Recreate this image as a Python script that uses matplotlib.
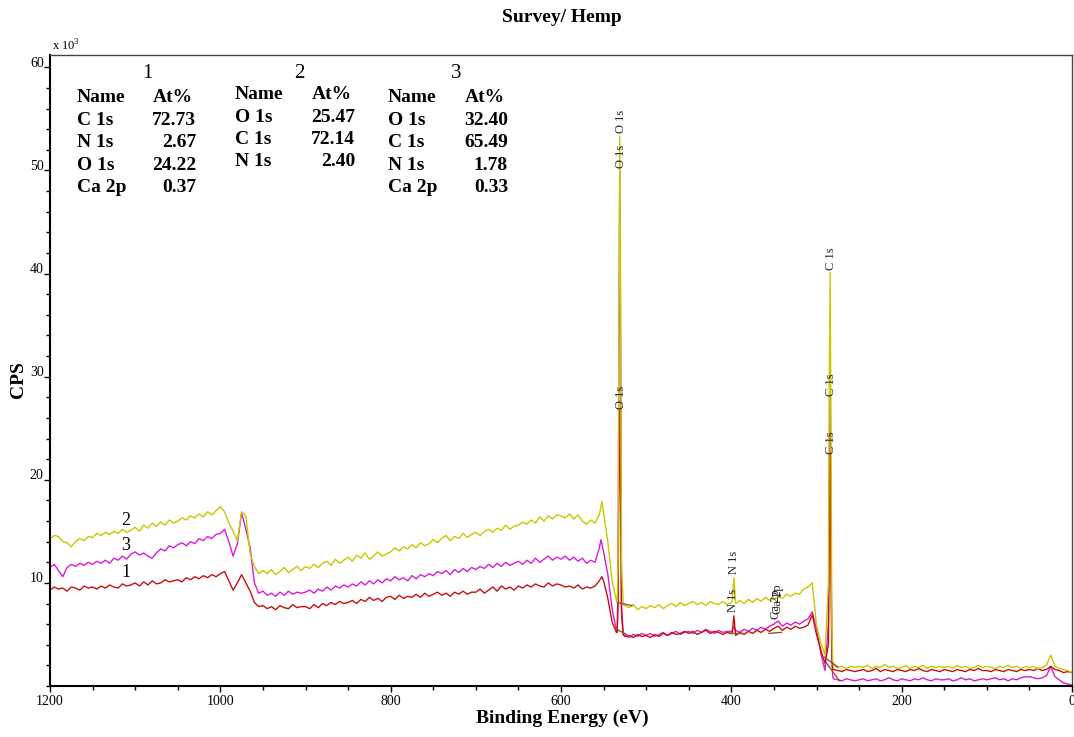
import numpy as np
import matplotlib
matplotlib.use('Agg')
from matplotlib import pyplot as plt
from matplotlib.ticker import MultipleLocator, FixedLocator
import matplotlib.transforms as mtransforms

plt.rcParams['font.family'] = ['Liberation Serif', 'DejaVu Serif']
plt.rcParams['mathtext.fontset'] = 'custom'
plt.rcParams['mathtext.rm'] = 'Liberation Serif'

# binding energy grid (eV), 5 eV steps from 1200 down to 0
energy = list(range(1200, -1, -5))

# CPS values in units of 10^3
# sample 2 (yellow)
cps_2 = [
    14.3, 14.6, 14.5, 14.0, 13.9, 13.5, 14.0, 14.3, 14.1, 14.5,
    14.4, 14.8, 14.6, 14.9, 14.7, 15.0, 14.8, 15.2, 14.9, 15.1,
    15.4, 15.0, 15.6, 15.3, 15.8, 15.5, 15.9, 15.6, 16.1, 15.8,
    16.0, 16.3, 16.1, 16.5, 16.3, 16.7, 16.4, 16.9, 16.6, 17.0,
    17.4, 16.9, 15.8, 15.0, 14.1, 16.9, 16.5, 12.8, 11.6, 10.9,
    11.2, 10.9, 11.3, 10.8, 11.1, 11.5, 11.0, 11.3, 11.6, 11.2,
    11.6, 11.4, 11.8, 11.5, 11.9, 12.1, 11.7, 12.3, 11.9, 12.2,
    12.5, 12.1, 12.7, 12.4, 12.9, 12.3, 12.6, 13.0, 12.6, 12.8,
    13.0, 13.4, 13.1, 13.5, 13.3, 13.7, 13.4, 13.9, 13.6, 13.8,
    14.2, 13.9, 14.3, 14.6, 14.1, 14.5, 14.3, 14.8, 14.4, 14.7,
    14.9, 14.6, 15.0, 15.2, 14.9, 15.3, 15.1, 15.6, 15.2, 15.5,
    15.6, 15.9, 15.7, 16.1, 15.8, 16.4, 16.0, 16.5, 16.2, 16.6,
    16.5, 16.3, 16.7, 16.2, 16.6, 16.0, 15.7, 16.1, 15.8, 16.6,
    16.8, 14.0, 10.2, 8.3, 8.0, 7.8, 7.6, 7.9, 7.4, 7.7,
    7.5, 7.8, 7.6, 7.9, 7.5, 7.8, 8.0, 7.7, 8.1, 7.8,
    8.0, 8.2, 7.9, 8.1, 7.8, 8.2, 8.0, 7.9, 8.2, 7.9,
    8.1, 8.0, 8.3, 8.0, 8.4, 8.1, 8.5, 8.2, 8.6, 8.3,
    8.4, 8.7, 8.5, 8.9, 8.7, 9.0, 8.9, 9.4, 9.6, 10.0,
    5.9, 4.2, 3.0, 30.0, 2.0, 1.8, 1.9, 1.7, 1.9, 1.8,
    1.9, 1.8, 2.0, 1.7, 1.9, 1.8, 2.1, 1.8, 1.9, 1.7,
    1.8, 2.0, 1.7, 1.9, 1.8, 2.0, 1.7, 1.9, 1.8, 1.9,
    1.8, 1.9, 1.7, 2.0, 1.8, 1.9, 1.7, 1.8, 2.0, 1.8,
    1.9, 1.8, 1.7, 1.9, 1.8, 2.0, 1.8, 1.9, 1.7, 1.9,
    1.8, 1.9, 1.7, 1.8, 2.0, 3.0, 1.9, 1.7, 1.6, 1.5,
    1.3]

# sample 3 (magenta)
cps_3 = [
    11.5, 11.8, 11.2, 10.6, 11.5, 11.8, 11.6, 11.9, 11.7, 12.0,
    11.8, 12.1, 11.9, 12.2, 11.9, 12.4, 12.2, 12.6, 12.3, 12.8,
    13.0, 12.7, 12.9, 12.6, 12.4, 12.9, 13.3, 13.1, 13.6, 13.4,
    13.7, 13.9, 13.6, 14.0, 13.8, 14.3, 14.1, 14.5, 14.3, 14.7,
    14.8, 15.2, 14.0, 12.6, 13.8, 16.8, 15.2, 13.4, 10.0, 9.0,
    9.2, 8.8, 9.0, 8.7, 9.1, 8.8, 9.2, 8.9, 9.1, 9.0,
    9.1, 9.3, 9.0, 9.4, 9.2, 9.6, 9.3, 9.7, 9.5, 9.8,
    9.6, 9.9, 9.7, 10.1, 9.8, 10.2, 9.9, 10.3, 10.0, 10.4,
    10.2, 10.6, 10.3, 10.5, 10.2, 10.7, 10.4, 10.8, 10.6, 10.9,
    10.7, 11.1, 10.9, 11.2, 10.8, 11.3, 11.0, 11.4, 11.1, 11.5,
    11.3, 11.6, 11.4, 11.8, 11.5, 11.9, 11.6, 12.0, 11.7, 11.9,
    12.1, 11.8, 12.2, 11.9, 12.4, 12.0, 12.3, 12.6, 12.2, 12.5,
    12.3, 12.6, 12.2, 12.5, 12.1, 12.4, 11.9, 12.2, 12.0, 13.4,
    13.0, 10.8, 7.5, 5.4, 5.2, 4.9, 4.7, 5.0, 4.8, 5.1,
    4.9, 5.1, 4.8, 5.0, 5.2, 4.9, 5.1, 5.3, 5.0, 5.2,
    5.3, 5.1, 5.4, 5.2, 5.5, 5.3, 5.1, 5.4, 5.2, 5.3,
    5.3, 5.4, 5.2, 5.5, 5.3, 5.6, 5.4, 5.7, 5.5, 5.8,
    6.0, 6.3, 5.8, 6.1, 5.9, 6.2, 6.0, 6.3, 6.5, 7.2,
    5.6, 3.2, 1.5, 20.0, 0.7, 0.6, 0.5, 0.7, 0.6, 0.5,
    0.6, 0.7, 0.5, 0.6, 0.7, 0.5, 0.6, 0.8, 0.6, 0.5,
    0.7, 0.6, 0.5, 0.7, 0.6, 0.8, 0.6, 0.5, 0.7, 0.6,
    0.6, 0.7, 0.5, 0.6, 0.8, 0.6, 0.7, 0.5, 0.6, 0.7,
    0.6, 0.7, 0.8, 0.6, 0.7, 0.5, 0.7, 0.6, 0.8, 0.9,
    0.9, 0.8, 0.7, 0.8, 1.0, 1.9, 0.9, 0.6, 0.3, 0.2,
    0.1]

# sample 1 (red)
cps_1 = [
    9.3, 9.6, 9.4, 9.5, 9.2, 9.6, 9.5, 9.3, 9.7, 9.5,
    9.6, 9.4, 9.7, 9.5, 9.8, 9.6, 9.5, 9.9, 9.7, 9.8,
    10.0, 9.7, 10.1, 9.8, 10.2, 9.9, 10.0, 10.3, 10.1, 10.2,
    10.3, 10.1, 10.5, 10.3, 10.6, 10.4, 10.7, 10.5, 10.8, 10.6,
    10.9, 11.1, 10.2, 9.3, 10.0, 10.8, 10.0, 9.2, 8.1, 7.7,
    7.8, 7.5, 7.7, 7.4, 7.8, 7.6, 7.5, 7.9, 7.6, 7.7,
    7.7, 7.5, 7.9, 7.6, 8.0, 7.8, 8.1, 7.9, 8.2, 8.0,
    8.1, 8.3, 8.0, 8.4, 8.2, 8.6, 8.3, 8.5, 8.2, 8.6,
    8.7, 8.4, 8.8, 8.5, 8.7, 8.6, 8.9, 8.6, 9.0, 8.7,
    8.9, 9.1, 8.8, 9.0, 8.7, 9.1, 8.9, 9.2, 8.9, 9.1,
    9.1, 9.4, 9.0, 9.3, 9.6, 9.2, 9.7, 9.4, 9.6, 9.3,
    9.7, 9.5, 9.8, 9.6, 9.9, 9.7, 9.6, 10.0, 9.7, 9.9,
    9.8, 9.6, 9.7, 9.5, 9.8, 9.4, 9.6, 9.5, 9.7, 10.2,
    10.2, 8.5, 6.2, 5.2, 5.3, 4.8, 4.9, 4.7, 5.0, 4.8,
    4.9, 4.7, 5.0, 4.8, 5.1, 4.9, 5.2, 5.0, 5.1, 5.3,
    5.1, 5.3, 5.0, 5.2, 5.4, 5.1, 5.3, 5.2, 5.0, 5.2,
    5.1, 4.9, 5.2, 5.0, 5.3, 5.1, 5.4, 5.2, 5.5, 5.3,
    5.6, 5.8, 5.4, 5.7, 5.5, 5.8, 5.6, 5.7, 5.9, 6.9,
    5.0, 3.5, 2.2, 15.0, 1.6, 1.5, 1.4, 1.6, 1.5, 1.4,
    1.5, 1.6, 1.4, 1.5, 1.7, 1.4, 1.6, 1.5, 1.4, 1.6,
    1.5, 1.4, 1.6, 1.5, 1.7, 1.5, 1.4, 1.6, 1.5, 1.4,
    1.6, 1.5, 1.4, 1.6, 1.5, 1.4, 1.6, 1.5, 1.7, 1.5,
    1.5, 1.4, 1.6, 1.5, 1.4, 1.6, 1.5, 1.4, 1.6, 1.5,
    1.6, 1.5, 1.7, 1.5, 1.6, 1.9, 1.6, 1.5, 1.3, 1.4,
    1.3]

# extra points on the sharp peaks (eV: value)
peaks_2 = {552: 17.9, 534: 8.2, 533: 12.0, 532: 35.0, 531: 53.3, 530: 38.0, 529: 12.0, 527: 7.9,
           399: 8.2, 397: 10.5, 286: 10.0, 284: 40.1, 283: 25.0, 282: 6.0, 281: 2.5}
peaks_3 = {553: 14.2, 534: 5.3, 533: 10.0, 532: 32.0, 531: 50.0, 530: 33.0, 529: 8.0, 527: 5.0,
           399: 5.4, 397: 5.8, 286: 6.0, 284: 28.0, 283: 16.0, 282: 3.0, 281: 1.0}
peaks_1 = {552: 10.6, 534: 5.2, 533: 8.0, 532: 20.0, 531: 26.8, 530: 18.0, 529: 7.0, 527: 5.0,
           399: 5.1, 397: 6.8, 286: 4.0, 284: 22.4, 283: 12.0, 282: 3.0, 281: 1.6}

# quantification backgrounds (start eV, start cps, end eV, end cps)
backgrounds = [(537, 5.6, 523, 5.0), (534, 8.1, 517, 7.8), (403, 5.1, 388, 5.1),
               (356, 5.1, 341, 5.2), (291, 2.8, 275, 1.85), (289, 2.3, 273, 0.5)]

# peak markers (eV, cps at label foot, name)
peak_labels = [(529.5, 53.6, 'O 1s'), (530, 50.2, 'O 1s'), (530, 26.9, 'O 1s'),
               (283, 40.3, 'C 1s'), (283, 28.1, 'C 1s'), (283, 22.5, 'C 1s'),
               (396.5, 10.9, 'N 1s'), (397.5, 7.2, 'N 1s'),
               (347, 6.5, 'Ca 2p'), (345, 7.0, 'Ca 2p')]

# sample numbers next to the curves (eV, cps baseline, text)
sample_labels = [(1111, 15.6, '2'), (1111, 13.2, '3'), (1111, 10.6, '1')]

# atomic % tables
tab_names_1 = ['C 1s', 'N 1s', 'O 1s', 'Ca 2p']
tab_at_1 = ['72.73', '2.67', '24.22', '0.37']
tab_names_2 = ['O 1s', 'C 1s', 'N 1s']
tab_at_2 = ['25.47', '72.14', '2.40']
tab_names_3 = ['O 1s', 'C 1s', 'N 1s', 'Ca 2p']
tab_at_3 = ['32.40', '65.49', '1.78', '0.33']


def build(values, extras):
    pts = dict(zip(energy, values))
    pts.update(extras)
    xs = sorted(pts.keys(), reverse=True)
    return np.array(xs, dtype=float), np.array([pts[k] for k in xs])


fig = plt.figure(figsize=(10.74, 7.37), dpi=100)
ax = fig.add_axes([50 / 1074, 1 - 686 / 737, 1022 / 1074, 631 / 737])

for vals, extras, col in [(cps_3, peaks_3, '#d81cd8'),
                          (cps_1, peaks_1, '#c81010'),
                          (cps_2, peaks_2, '#c8c800')]:
    x, y = build(vals, extras)
    ax.plot(x, y, color=col, lw=1.0)

for e0, c0, e1, c1 in backgrounds:
    ax.plot([e0, e1], [c0, c1], color='#8b5a2b', lw=1.0)

for e, c, name in peak_labels:
    ax.text(e, c, name, rotation=90, ha='center', va='bottom', fontsize=9, color='#222222')

for e, c, s in sample_labels:
    ax.text(e, c, s, ha='center', va='baseline', fontsize=13)


def draw_table(num, names, ats, hx, nx, axx, vx, top):
    step = 0.0355
    ax.text(hx, 0.9636, num, transform=ax.transAxes, ha='center', va='baseline', fontsize=15)
    ax.text(nx, top, 'Name', transform=ax.transAxes, ha='left', va='baseline', fontsize=14, fontweight='bold')
    ax.text(axx, top, 'At%', transform=ax.transAxes, ha='left', va='baseline', fontsize=14, fontweight='bold')
    for i, (n, a) in enumerate(zip(names, ats)):
        yy = top - step * (i + 1)
        ax.text(nx, yy, n, transform=ax.transAxes, ha='left', va='baseline', fontsize=14, fontweight='bold')
        ax.text(vx, yy, a, transform=ax.transAxes, ha='right', va='baseline', fontsize=14, fontweight='bold')


draw_table('1', tab_names_1, tab_at_1, 0.0949, 0.0264, 0.1008, 0.1429, 0.925)
draw_table('2', tab_names_2, tab_at_2, 0.2436, 0.1810, 0.2564, 0.2984, 0.930)
draw_table('3', tab_names_3, tab_at_3, 0.3973, 0.3307, 0.4061, 0.4481, 0.925)

ax.set_xlim(1200, 0)
ax.set_ylim(0, 61.2)
ax.xaxis.set_major_locator(FixedLocator([1200, 1000, 800, 600, 400, 200, 0]))
ax.xaxis.set_minor_locator(MultipleLocator(50))
ax.yaxis.set_major_locator(FixedLocator([10, 20, 30, 40, 50, 60]))
ax.yaxis.set_minor_locator(MultipleLocator(2))
ax.tick_params(which='major', direction='out', length=4.5, width=1, labelsize=10, pad=2)
ax.tick_params(which='minor', direction='out', length=3, width=1)
ax.tick_params(axis='y', which='major', pad=0)
for lab in ax.get_yticklabels():
    lab.set_transform(lab.get_transform() + mtransforms.ScaledTranslation(0, 4 / 72, fig.dpi_scale_trans))

for side in ['left', 'bottom']:
    ax.spines[side].set_linewidth(1.5)
for side in ['top', 'right']:
    ax.spines[side].set_linewidth(1.0)
    ax.spines[side].set_color('#444444')

fig.text(562 / 1074, 1 - 18 / 737, 'Survey/ Hemp', ha='center', va='center', fontsize=14, fontweight='bold')
fig.text(18 / 1074, 1 - 380 / 737, 'CPS', ha='center', va='center', rotation=90, fontsize=14, fontweight='bold')
fig.text(562 / 1074, 1 - 718 / 737, 'Binding Energy (eV)', ha='center', va='center', fontsize=14, fontweight='bold')
fig.text(52 / 1074, 1 - 46 / 737, r'x 10$^{3}$', ha='left', va='center', fontsize=9)

fig.savefig('out.png', dpi=100)
